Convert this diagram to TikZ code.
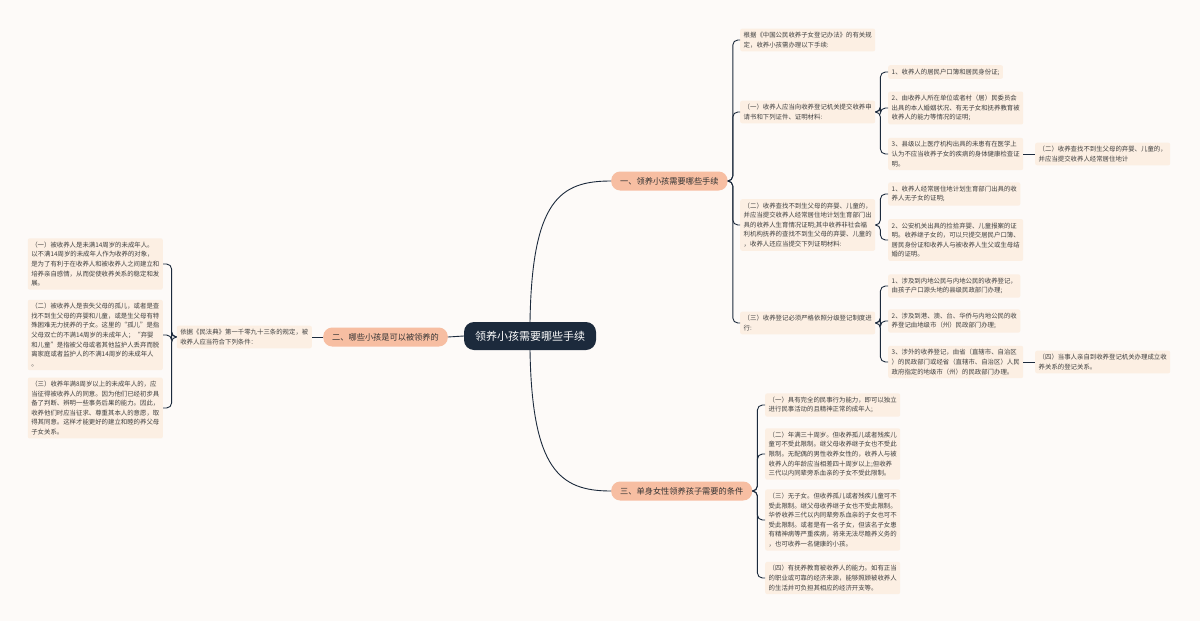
\documentclass[tikz,border=0pt]{standalone}
\usepackage{fontspec}
\setmainfont{Noto Sans CJK SC}
\definecolor{bgcol}{HTML}{FDFAF8}
\definecolor{rootcol}{HTML}{1C2A3C}
\definecolor{branchcol}{HTML}{F7BEA2}
\definecolor{leafcol}{HTML}{FCEFE3}
\definecolor{linecol}{HTML}{1C2A3C}
\tikzset{
  root/.style={fill=rootcol, text=white, rounded corners=10pt, inner xsep=11pt,
    minimum height=28pt, font=\fontsize{11}{13}\selectfont},
  branch/.style={fill=branchcol, text=black!80, rounded corners=9pt, inner xsep=9pt,
    minimum height=19pt, font=\fontsize{8.2}{10}\selectfont},
  leaf/.style={fill=leafcol, text=black!75, rounded corners=2pt, inner xsep=3.5pt,
    inner ysep=3.5pt, align=left, font=\fontsize{6.4}{9.6}\selectfont},
  link/.style={draw=linecol, line width=0.9pt, rounded corners=5pt},
}

\begin{document}
\begin{tikzpicture}[x=1pt, y=-1pt]
\useasboundingbox (0,0) rectangle (1200,621);
\fill[bgcol] (0,0) rectangle (1200,621);

% centre and main branches
\node[root] (root) at (530,336) {领养小孩需要哪些手续};
\node[branch, anchor=west] (b1) at (611,181) {一、领养小孩需要哪些手续};
\node[branch, anchor=east] (b2) at (448,337) {二、哪些小孩是可以被领养的};
\node[branch, anchor=west] (b3) at (611,491) {三、单身女性领养孩子需要的条件};

% left side
\node[leaf, anchor=east] (mid) at (312,337) {依据《民法典》第一千零九十三条的规定，被\\收养人应当符合下列条件：};
\node[leaf, anchor=east] (l1) at (163,264) {（一）被收养人是未满14周岁的未成年人。\\以不满14周岁的未成年人作为收养的对象，\\是为了有利于在收养人和被收养人之间建立和\\培养亲自感情，从而促使收养关系的稳定和发\\展。};
\node[leaf, anchor=east] (l2) at (163,335) {（二）被收养人是丧失父母的孤儿，或者是查\\找不到生父母的弃婴和儿童，或是生父母有特\\殊困难无力抚养的子女。这里的“孤儿”是指\\父母双亡的不满14周岁的未成年人；“弃婴\\和儿童”是指被父母或者其他监护人丢弃而脱\\离家庭或者监护人的不满14周岁的未成年人\\。};
\node[leaf, anchor=east] (l3) at (163,408) {（三）收养年满8周岁以上的未成年人的，应\\当征得被收养人的同意。因为他们已经初步具\\备了判断、辨明一些事务后果的能力。因此，\\收养他们时应当征求、尊重其本人的意愿，取\\得其同意。这样才能更好的建立和睦的养父母\\子女关系。};

% branch one
\node[leaf, anchor=west] (a) at (740,40) {根据《中国公民收养子女登记办法》的有关规\\定，收养小孩需办理以下手续:};
\node[leaf, anchor=west] (bb) at (740,112) {（一）收养人应当向收养登记机关提交收养申\\请书和下列证件、证明材料:};
\node[leaf, anchor=west] (cc) at (740,225) {（二）收养查找不到生父母的弃婴、儿童的，\\并应当提交收养人经常居住地计划生育部门出\\具的收养人生育情况证明;其中收养非社会福\\利机构抚养的查找不到生父母的弃婴、儿童的\\，收养人还应当提交下列证明材料:};
\node[leaf, anchor=west] (dd) at (740,323) {（三）收养登记必须严格依照分级登记制度进\\行:};

\node[leaf, anchor=west] (bb1) at (888,72) {1、收养人的居民户口簿和居民身份证;};
\node[leaf, anchor=west] (bb2) at (888,108) {2、由收养人所在单位或者村（居）民委员会\\出具的本人婚姻状况、有无子女和抚养教育被\\收养人的能力等情况的证明;};
\node[leaf, anchor=west] (bb3) at (888,154) {3、县级以上医疗机构出具的未患有在医学上\\认为不应当收养子女的疾病的身体健康检查证\\明。};
\node[leaf, anchor=west] (bb3x) at (1035,154) {（二）收养查找不到生父母的弃婴、儿童的，\\并应当提交收养人经常居住地计};

\node[leaf, anchor=west] (cc1) at (888,194) {1、收养人经常居住地计划生育部门出具的收\\养人无子女的证明;};
\node[leaf, anchor=west] (cc2) at (888,240) {2、公安机关出具的捡拾弃婴、儿童报案的证\\明。收养继子女的，可以只提交居民户口簿、\\居民身份证和收养人与被收养人生父或生母结\\婚的证明。};

\node[leaf, anchor=west] (dd1) at (888,286) {1、涉及到内地公民与内地公民的收养登记，\\由孩子户口源头地的县级民政部门办理;};
\node[leaf, anchor=west] (dd2) at (888,321) {2、涉及到港、澳、台、华侨与内地公民的收\\养登记由地级市（州）民政部门办理;};
\node[leaf, anchor=west] (dd3) at (888,362) {3、涉外的收养登记，由省（直辖市、自治区\\）的民政部门或经省（直辖市、自治区）人民\\政府指定的地级市（州）的民政部门办理。};
\node[leaf, anchor=west] (dd3x) at (1035,362) {（四）当事人亲自到收养登记机关办理成立收\\养关系的登记关系。};

% branch three
\node[leaf, anchor=west] (e1) at (765,405) {（一）具有完全的民事行为能力，即可以独立\\进行民事活动的且精神正常的成年人;};
\node[leaf, anchor=west] (e2) at (765,454) {（二）年满三十周岁。但收养孤儿或者残疾儿\\童可不受此限制。继父母收养继子女也不受此\\限制。无配偶的男性收养女性的，收养人与被\\收养人的年龄应当相差四十周岁以上;但收养\\三代以内同辈旁系血亲的子女不受此限制。};
\node[leaf, anchor=west] (e3) at (765,520) {（三）无子女。但收养孤儿或者残疾儿童可不\\受此限制。继父母收养继子女也不受此限制。\\华侨收养三代以内同辈旁系血亲的子女也可不\\受此限制。或者是有一名子女，但该名子女患\\有精神病等严重疾病，将来无法尽赡养义务的\\，也可收养一名健康的小孩。};
\node[leaf, anchor=west] (e4) at (765,578) {（四）有抚养教育被收养人的能力。如有正当\\的职业或可靠的经济来源，能够照顾被收养人\\的生活并可负担其相应的经济开支等。};

% connectors
\draw[link] (root.west) -- (b2.east);
\draw[link] (b2.west) -- (mid.east);
\draw[link] (root.north) .. controls (532,200) and (560,181) .. (b1.west);
\draw[link] (root.south) .. controls (532,470) and (560,491) .. (b3.west);

\foreach \c in {l1,l2,l3}
  \draw[link] (mid.west) -- ++(-5,0) |- (\c.east);

\foreach \p/\c in {b1/a, b1/bb, b1/cc, b1/dd, bb/bb1, bb/bb2, bb/bb3,
                   cc/cc1, cc/cc2, dd/dd1, dd/dd2, dd/dd3, b3/e1, b3/e2, b3/e3, b3/e4}
  \draw[link] (\p.east) -- ++(5,0) |- (\c.west);

\draw[link] (bb3.east) -- (bb3x.west);
\draw[link] (dd3.east) -- (dd3x.west);

\end{tikzpicture}
\end{document}
